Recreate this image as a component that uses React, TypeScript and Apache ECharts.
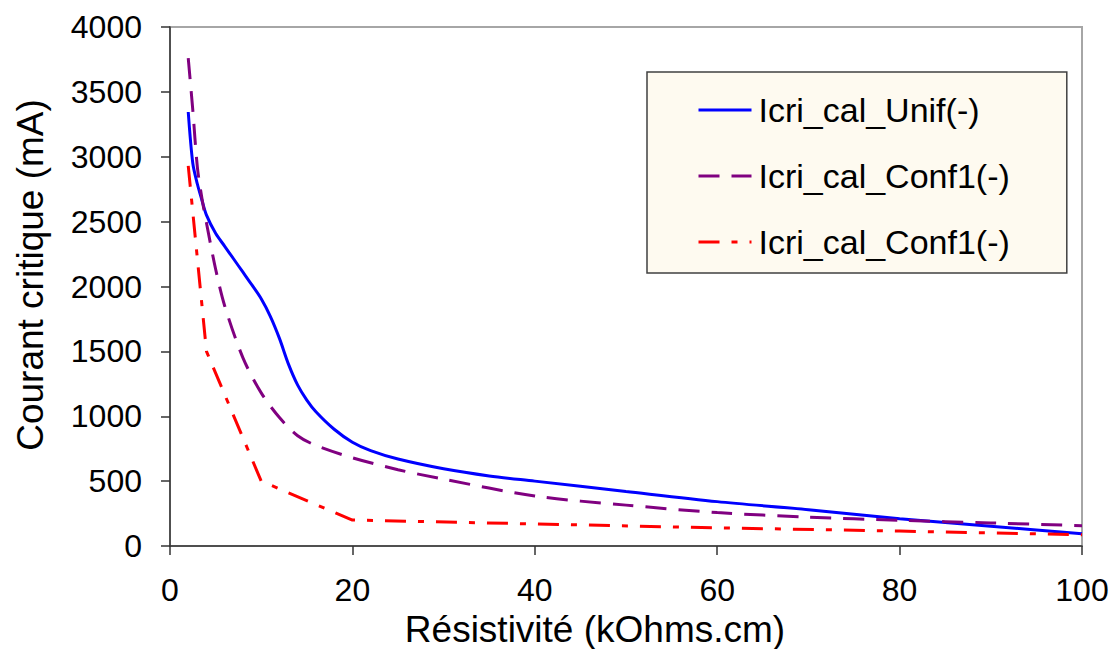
import React, { useEffect, useRef } from "react";
import * as echarts from "echarts";

const FONT = "'Liberation Sans', Arial, Helvetica, sans-serif";

// Résistivité (kOhms.cm)
const unifX = [2, 2.5, 3, 3.5, 4, 5, 6, 7, 8, 9, 10, 11, 12, 13, 14, 15, 16, 18, 20, 22, 25, 30, 35, 40, 50, 60, 70, 80, 90, 100];
// Courant critique (mA)
const unifY = [3345, 2950, 2790, 2665, 2550, 2410, 2310, 2210, 2110, 2010, 1905, 1770, 1600, 1400, 1240, 1125, 1035, 900, 800, 735, 670, 595, 540, 500, 420, 342, 280, 210, 152, 95];

const conf1X = [2, 2.5, 3, 3.5, 4, 5, 6, 8, 10, 12, 14, 16, 20, 25, 30, 40, 50, 60, 70, 80, 90, 100];
const conf1Y = [3760, 3360, 2920, 2680, 2490, 2135, 1850, 1450, 1180, 990, 850, 775, 680, 588, 515, 385, 315, 258, 222, 198, 178, 157];

const conf1bX = [2, 4, 10, 20, 40, 60, 80, 100];
const conf1bY = [2930, 1500, 500, 200, 170, 140, 115, 87];

const seriesNames = ["Icri_cal_Unif(-)", "Icri_cal_Conf1(-)", "Icri_cal_Conf1(-) "];
const xTicks = { min: 0, max: 100, interval: 20 };
const yTicks = { min: 0, max: 4000, interval: 500 };

const pairs = (xs: number[], ys: number[]) => xs.map((x, i) => [x, ys[i]]);

export default function App() {
  const ref = useRef<HTMLDivElement>(null);
  useEffect(() => {
    if (!ref.current) return;
    const chart = echarts.init(ref.current, null, { renderer: "svg" });
    const axisColor = "#333";
    chart.setOption({
      animation: false,
      backgroundColor: "#fff",
      textStyle: { fontFamily: FONT },
      grid: {
        left: 170,
        right: 32,
        top: 27,
        bottom: 103,
        show: true,
        borderColor: "#a6a6a6",
        borderWidth: 2,
        backgroundColor: "transparent",
      },
      xAxis: {
        type: "value",
        min: xTicks.min,
        max: xTicks.max,
        interval: xTicks.interval,
        splitLine: { show: false },
        axisLine: { show: true, onZero: false, lineStyle: { color: axisColor, width: 1.5 } },
        axisTick: { show: true, inside: false, length: 9, lineStyle: { color: axisColor, width: 1.5 } },
        axisLabel: { fontSize: 32, fontFamily: FONT, color: "#000", margin: 28, formatter: (v: number) => String(v) },
      },
      yAxis: {
        type: "value",
        min: yTicks.min,
        max: yTicks.max,
        interval: yTicks.interval,
        splitLine: { show: false },
        axisLine: { show: true, onZero: false, lineStyle: { color: axisColor, width: 1.5 } },
        axisTick: { show: true, inside: false, length: 9, lineStyle: { color: axisColor, width: 1.5 } },
        axisLabel: { fontSize: 32, fontFamily: FONT, color: "#000", margin: 28, formatter: (v: number) => String(v) },
      },
      legend: {
        orient: "vertical",
        left: 647,
        top: 72,
        padding: [18, 57, 11, 50],
        itemWidth: 53,
        itemHeight: 14,
        itemGap: 26,
        backgroundColor: "#fefaf0",
        borderColor: "#404040",
        borderWidth: 1.5,
        data: seriesNames,
        formatter: (n: string) => n.trim(),
        itemStyle: { opacity: 0 },
        lineStyle: { width: 3 },
        textStyle: { fontSize: 34, fontFamily: FONT, color: "#000", lineHeight: 40, padding: [0, 0, 0, 2] },
      },
      graphic: [
        {
          type: "text",
          x: 595,
          y: 629,
          style: {
            text: "Résistivité (kOhms.cm)",
            fontSize: 37,
            fontFamily: FONT,
            fill: "#000",
            align: "center",
            verticalAlign: "middle",
          },
        },
        {
          type: "text",
          x: 30,
          y: 275,
          rotation: Math.PI / 2,
          style: {
            text: "Courant critique (mA)",
            fontSize: 37,
            fontFamily: FONT,
            fill: "#000",
            align: "center",
            verticalAlign: "middle",
          },
        },
      ],
      series: [
        {
          name: seriesNames[0],
          type: "line",
          data: pairs(unifX, unifY),
          smooth: 0.3,
          symbol: "none",
          lineStyle: { color: "#0000ff", width: 3 },
          itemStyle: { color: "#0000ff" },
        },
        {
          name: seriesNames[1],
          type: "line",
          data: pairs(conf1X, conf1Y),
          smooth: 0.3,
          symbol: "none",
          lineStyle: { color: "#800080", width: 3, type: [21, 12] },
          itemStyle: { color: "#800080" },
        },
        {
          name: seriesNames[2],
          type: "line",
          data: pairs(conf1bX, conf1bY),
          smooth: false,
          symbol: "none",
          lineStyle: { color: "#ff0000", width: 3, type: [21, 12, 6, 12] },
          itemStyle: { color: "#ff0000" },
        },
      ],
    });
    return () => chart.dispose();
  }, []);
  return (
    <div
      ref={ref}
      style={{ position: "fixed", left: 0, top: 0, width: 1114, height: 649, background: "#fff" }}
    />
  );
}
